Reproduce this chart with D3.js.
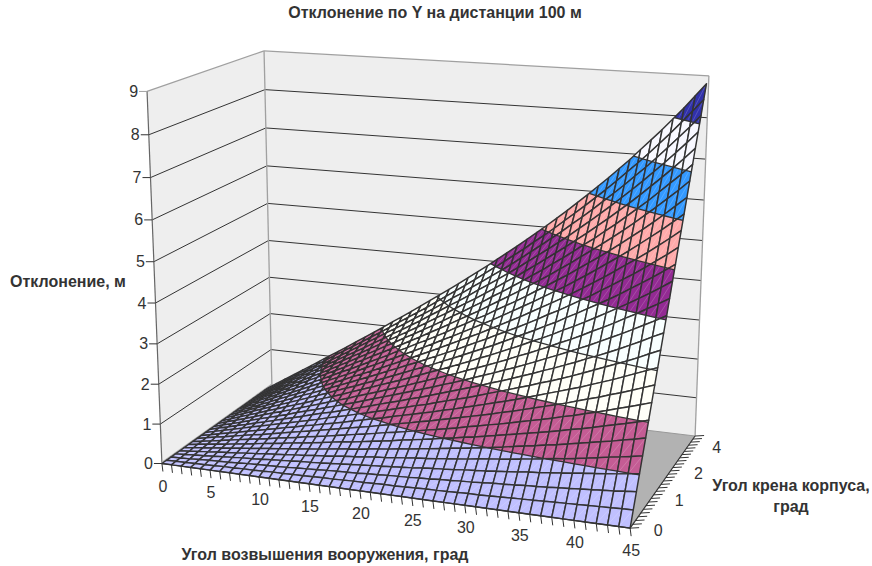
<!DOCTYPE html>
<html><head><meta charset="utf-8">
<script src="https://cdn.jsdelivr.net/npm/d3@7"></script>
<style>body{margin:0;background:#fff}text{font-family:"Liberation Sans",Arial,sans-serif;fill:#333}</style>
</head><body><svg id="chart" width="872" height="566"></svg>
<script>
var elevation = [0,1,2,3,4,5,6,7,8,9,10,11,12,13,14,15,16,17,18,19,20,21,22,23,24,25,26,27,28,29,30,31,32,33,34,35,36,37,38,39,40,41,42,43,44,45];
var roll = [0,.15,.3,.45,.6,.75,.9,1.05,1.2,1.35,1.5,1.65,1.8,1.95,2.1,2.25,2.4,2.55,2.7,2.85,3,3.15,3.3,3.45,3.6,3.75,3.9];
var rollEnd = 4.05;
// one row per roll angle
var deviation = [
[0,0,0,0,0,0,0,0,0,0,0,0,0,0,0,0,0,0,0,0,0,0,0,0,0,0,0,0,0,0,0,0,0,0,0,0,0,0,0,0,0,0,0,0,0,0],
[0,.01,.01,.02,.02,.03,.04,.04,.05,.05,.06,.07,.07,.08,.08,.09,.10,.10,.11,.12,.12,.13,.14,.14,.15,.16,.17,.17,.18,.19,.20,.20,.21,.22,.23,.24,.25,.26,.27,.28,.29,.30,.31,.32,.33,.34],
[0,.01,.02,.04,.05,.06,.07,.08,.10,.11,.12,.13,.14,.16,.17,.18,.20,.21,.22,.23,.25,.26,.28,.29,.30,.32,.33,.35,.36,.38,.39,.41,.43,.44,.46,.48,.49,.51,.53,.55,.57,.59,.61,.63,.66,.68],
[0,.02,.04,.05,.07,.09,.11,.13,.14,.16,.18,.20,.22,.24,.25,.27,.29,.31,.33,.35,.37,.39,.41,.43,.45,.48,.50,.52,.54,.57,.59,.61,.64,.66,.69,.72,.74,.77,.80,.83,.86,.89,.92,.95,.99,1.02],
[0,.02,.05,.07,.10,.12,.14,.17,.19,.22,.24,.26,.29,.31,.34,.36,.39,.42,.44,.47,.50,.52,.55,.58,.61,.63,.66,.69,.72,.75,.79,.82,.85,.88,.92,.95,.99,1.03,1.06,1.10,1.14,1.18,1.23,1.27,1.31,1.36],
[0,.03,.06,.09,.12,.15,.18,.21,.24,.27,.30,.33,.36,.39,.42,.46,.49,.52,.55,.59,.62,.65,.69,.72,.76,.79,.83,.87,.90,.94,.98,1.02,1.06,1.11,1.15,1.19,1.24,1.28,1.33,1.38,1.43,1.48,1.53,1.59,1.64,1.70],
[0,.04,.07,.11,.14,.18,.21,.25,.29,.32,.36,.40,.43,.47,.51,.55,.59,.62,.66,.70,.74,.78,.83,.87,.91,.95,1.00,1.04,1.09,1.13,1.18,1.23,1.28,1.33,1.38,1.43,1.48,1.54,1.60,1.65,1.71,1.78,1.84,1.90,1.97,2.04],
[0,.04,.08,.12,.17,.21,.25,.29,.33,.38,.42,.46,.51,.55,.59,.64,.68,.73,.77,.82,.87,.91,.96,1.01,1.06,1.11,1.16,1.21,1.27,1.32,1.38,1.43,1.49,1.55,1.61,1.67,1.73,1.80,1.86,1.93,2.00,2.07,2.15,2.22,2.30,2.38],
[0,.05,.10,.14,.19,.24,.29,.33,.38,.43,.48,.53,.58,.63,.68,.73,.78,.83,.88,.94,.99,1.05,1.10,1.16,1.21,1.27,1.33,1.39,1.45,1.51,1.57,1.64,1.70,1.77,1.84,1.91,1.98,2.05,2.13,2.21,2.28,2.37,2.45,2.54,2.63,2.72],
[0,.05,.11,.16,.21,.27,.32,.38,.43,.49,.54,.60,.65,.71,.76,.82,.88,.94,1.00,1.05,1.12,1.18,1.24,1.30,1.36,1.43,1.49,1.56,1.63,1.70,1.77,1.84,1.91,1.99,2.07,2.15,2.23,2.31,2.39,2.48,2.57,2.66,2.76,2.86,2.96,3.06],
[0,.06,.12,.18,.24,.30,.36,.42,.48,.54,.60,.66,.72,.79,.85,.91,.98,1.04,1.11,1.17,1.24,1.31,1.38,1.44,1.52,1.59,1.66,1.73,1.81,1.89,1.97,2.05,2.13,2.21,2.30,2.38,2.47,2.56,2.66,2.76,2.86,2.96,3.06,3.17,3.29,3.40],
[0,.07,.13,.20,.26,.33,.39,.46,.53,.59,.66,.73,.80,.86,.93,1.00,1.07,1.14,1.22,1.29,1.36,1.44,1.51,1.59,1.67,1.75,1.83,1.91,1.99,2.08,2.16,2.25,2.34,2.43,2.53,2.62,2.72,2.82,2.93,3.03,3.14,3.25,3.37,3.49,3.62,3.74],
[0,.07,.14,.21,.29,.36,.43,.50,.57,.65,.72,.79,.87,.94,1.02,1.09,1.17,1.25,1.33,1.41,1.49,1.57,1.65,1.73,1.82,1.90,1.99,2.08,2.17,2.26,2.36,2.45,2.55,2.65,2.76,2.86,2.97,3.08,3.19,3.31,3.43,3.55,3.68,3.81,3.94,4.08],
[0,.08,.15,.23,.31,.39,.47,.54,.62,.70,.78,.86,.94,1.02,1.10,1.19,1.27,1.35,1.44,1.52,1.61,1.70,1.79,1.88,1.97,2.06,2.16,2.25,2.35,2.45,2.55,2.66,2.76,2.87,2.98,3.10,3.21,3.33,3.46,3.58,3.71,3.85,3.98,4.13,4.27,4.42],
[0,.08,.17,.25,.33,.42,.50,.59,.67,.75,.84,.93,1.01,1.10,1.19,1.28,1.37,1.46,1.55,1.64,1.73,1.83,1.93,2.02,2.12,2.22,2.32,2.43,2.53,2.64,2.75,2.86,2.98,3.09,3.21,3.34,3.46,3.59,3.72,3.86,4.00,4.14,4.29,4.44,4.60,4.77],
[0,.09,.18,.27,.36,.45,.54,.63,.72,.81,.90,.99,1.09,1.18,1.27,1.37,1.46,1.56,1.66,1.76,1.86,1.96,2.06,2.17,2.27,2.38,2.49,2.60,2.71,2.83,2.95,3.07,3.19,3.32,3.44,3.58,3.71,3.85,3.99,4.13,4.28,4.44,4.60,4.76,4.93,5.11],
[0,.10,.19,.29,.38,.48,.57,.67,.77,.86,.96,1.06,1.16,1.26,1.36,1.46,1.56,1.67,1.77,1.88,1.98,2.09,2.20,2.31,2.42,2.54,2.66,2.77,2.90,3.02,3.14,3.27,3.40,3.54,3.67,3.81,3.96,4.10,4.26,4.41,4.57,4.73,4.90,5.08,5.26,5.45],
[0,.10,.20,.30,.40,.51,.61,.71,.81,.92,1.02,1.12,1.23,1.34,1.44,1.55,1.66,1.77,1.88,1.99,2.11,2.22,2.34,2.46,2.58,2.70,2.82,2.95,3.08,3.21,3.34,3.48,3.62,3.76,3.90,4.05,4.20,4.36,4.52,4.69,4.86,5.03,5.21,5.40,5.59,5.79],
[0,.11,.21,.32,.43,.54,.64,.75,.86,.97,1.08,1.19,1.30,1.41,1.53,1.64,1.76,1.87,1.99,2.11,2.23,2.35,2.48,2.60,2.73,2.86,2.99,3.12,3.26,3.40,3.54,3.68,3.83,3.98,4.13,4.29,4.45,4.62,4.79,4.96,5.14,5.33,5.52,5.71,5.92,6.13],
[0,.11,.23,.34,.45,.57,.68,.79,.91,1.02,1.14,1.26,1.37,1.49,1.61,1.73,1.85,1.98,2.10,2.23,2.35,2.48,2.61,2.75,2.88,3.02,3.15,3.30,3.44,3.58,3.73,3.89,4.04,4.20,4.36,4.53,4.70,4.87,5.05,5.24,5.43,5.62,5.82,6.03,6.25,6.47],
[0,.12,.24,.36,.48,.60,.72,.84,.96,1.08,1.20,1.32,1.45,1.57,1.70,1.82,1.95,2.08,2.21,2.34,2.48,2.61,2.75,2.89,3.03,3.17,3.32,3.47,3.62,3.77,3.93,4.09,4.25,4.42,4.59,4.77,4.95,5.13,5.32,5.51,5.71,5.92,6.13,6.35,6.57,6.81],
[0,.12,.25,.37,.50,.63,.75,.88,1.00,1.13,1.26,1.39,1.52,1.65,1.78,1.92,2.05,2.19,2.32,2.46,2.60,2.74,2.89,3.03,3.18,3.33,3.49,3.64,3.80,3.96,4.13,4.29,4.47,4.64,4.82,5.01,5.19,5.39,5.58,5.79,6.00,6.21,6.44,6.67,6.90,7.15],
[0,.13,.26,.39,.52,.66,.79,.92,1.05,1.19,1.32,1.46,1.59,1.73,1.87,2.01,2.15,2.29,2.43,2.58,2.73,2.87,3.03,3.18,3.33,3.49,3.65,3.82,3.98,4.15,4.32,4.50,4.68,4.86,5.05,5.24,5.44,5.64,5.85,6.06,6.28,6.51,6.74,6.98,7.23,7.49],
[0,.14,.27,.41,.55,.68,.82,.96,1.10,1.24,1.38,1.52,1.66,1.81,1.95,2.10,2.24,2.39,2.54,2.70,2.85,3.01,3.16,3.32,3.49,3.65,3.82,3.99,4.16,4.34,4.52,4.70,4.89,5.08,5.28,5.48,5.69,5.90,6.12,6.34,6.57,6.81,7.05,7.30,7.56,7.83],
[0,.14,.29,.43,.57,.71,.86,1.00,1.15,1.29,1.44,1.59,1.74,1.89,2.04,2.19,2.34,2.50,2.65,2.81,2.97,3.14,3.30,3.47,3.64,3.81,3.98,4.16,4.34,4.53,4.72,4.91,5.10,5.31,5.51,5.72,5.94,6.16,6.38,6.62,6.85,7.10,7.36,7.62,7.89,8.17],
[0,.15,.30,.45,.60,.74,.89,1.04,1.20,1.35,1.50,1.65,1.81,1.96,2.12,2.28,2.44,2.60,2.76,2.93,3.10,3.27,3.44,3.61,3.79,3.97,4.15,4.34,4.52,4.72,4.91,5.11,5.32,5.53,5.74,5.96,6.18,6.41,6.65,6.89,7.14,7.40,7.66,7.94,8.22,8.51],
[0,.15,.31,.46,.62,.77,.93,1.09,1.24,1.40,1.56,1.72,1.88,2.04,2.21,2.37,2.54,2.71,2.88,3.05,3.22,3.40,3.58,3.76,3.94,4.13,4.32,4.51,4.71,4.91,5.11,5.32,5.53,5.75,5.97,6.20,6.43,6.67,6.91,7.17,7.43,7.69,7.97,8.25,8.55,8.85]
];
var zTicks = [0,1,2,3,4,5,6,7,8,9];
var xLabels = [0,5,10,15,20,25,30,35,40,45];
var rollLabelAt = [0,1.2,2.4,3.6];
var rollLabels = ["0","1","2","4"];
var bandColors = ["#c0c0ff","#c45c94","#fffff8","#f8ffff","#932a93","#ffaaaa","#3399ff","#f8f8ff","#3030aa"];

var sx = d3.scaleLinear().domain([0, 45]).range([0, 1]);
var sv = d3.scaleLinear().domain([0, rollEnd]).range([0, 1]);
var sz = d3.scaleLinear().domain([0, 9]).range([0, 1]);

// box corners on screen, used to solve the camera
var calib = [
	[0,0,0,163,465],[1,0,0,629,528],[1,1,0,696,436],[0,1,0,271,384],
	[0,0,1,147,90],[0,1,1,264,52],[1,1,1,709,76]
];
function solve(A, b){
	var n = b.length, M = A.map(function(r,i){return r.concat(b[i]);});
	for (var i = 0; i < n; i++){
		var p = i;
		for (var j = i + 1; j < n; j++) if (Math.abs(M[j][i]) > Math.abs(M[p][i])) p = j;
		var t = M[i]; M[i] = M[p]; M[p] = t;
		for (j = 0; j < n; j++) if (j != i){
			var f = M[j][i] / M[i][i];
			for (var k = i; k <= n; k++) M[j][k] -= f * M[i][k];
		}
	}
	return M.map(function(r,i){return r[n] / r[i];});
}
var rows = [], rhs = [];
calib.forEach(function(c){
	var u=c[0],v=c[1],w=c[2],X=c[3],Y=c[4];
	rows.push([u,v,w,1,0,0,0,0,-X*u,-X*v,-X*w]); rhs.push(X);
	rows.push([0,0,0,0,u,v,w,1,-Y*u,-Y*v,-Y*w]); rhs.push(Y);
});
var AtA = d3.range(11).map(function(i){return d3.range(11).map(function(j){return d3.sum(rows,function(r){return r[i]*r[j];});});});
var Atb = d3.range(11).map(function(i){return d3.sum(rows,function(r,k){return r[i]*rhs[k];});});
var cam = solve(AtA, Atb);
function proj(x, r, z){
	var u=sx(x),v=sv(r),w=sz(z);
	var d = cam[8]*u+cam[9]*v+cam[10]*w+1;
	return [(cam[0]*u+cam[1]*v+cam[2]*w+cam[3])/d, (cam[4]*u+cam[5]*v+cam[6]*w+cam[7])/d];
}
var line = d3.line();
var svg = d3.select("#chart");
function poly(pts, fill){
	svg.append("path").attr("d", line(pts)+"Z").attr("fill", fill).attr("stroke","none");
}
function seg(a, b, col, w){
	svg.append("line").attr("x1",a[0]).attr("y1",a[1]).attr("x2",b[0]).attr("y2",b[1]).attr("stroke",col).attr("stroke-width",w);
}
// walls and floor
poly([proj(0,0,0),proj(0,rollEnd,0),proj(0,rollEnd,9),proj(0,0,9)], "#eeeeee");
poly([proj(0,rollEnd,0),proj(45,rollEnd,0),proj(45,rollEnd,9),proj(0,rollEnd,9)], "#eeeeee");
poly([proj(0,0,0),proj(45,0,0),proj(45,rollEnd,0),proj(0,rollEnd,0)], "#b2b2b2");
zTicks.slice(1,9).forEach(function(z){
	seg(proj(0,0,z),proj(0,rollEnd,z),"#333",1);
	seg(proj(0,rollEnd,z),proj(45,rollEnd,z),"#333",1);
});
seg(proj(0,0,9),proj(0,rollEnd,9),"#a0a0a0",1.3);
seg(proj(0,rollEnd,9),proj(45,rollEnd,9),"#a0a0a0",1.3);
seg(proj(0,rollEnd,0),proj(0,rollEnd,9),"#a0a0a0",1.3);
seg(proj(45,rollEnd,0),proj(45,rollEnd,9),"#a0a0a0",1.3);
seg(proj(0,0,0),proj(0,0,9),"#666",1.2);
seg(proj(0,0,0),proj(0,rollEnd,0),"#aaa",3);
seg(proj(0,rollEnd,0),proj(45,rollEnd,0),"#999",1);

// surface, back rows first
function clip(p, z0, keepAbove){
	var out = [];
	p.forEach(function(a,i){
		var b = p[(i+1)%p.length];
		var ia = keepAbove ? a[2]>=z0 : a[2]<=z0, ib = keepAbove ? b[2]>=z0 : b[2]<=z0;
		if (ia) out.push(a);
		if (ia != ib){
			var t = (z0-a[2])/(b[2]-a[2]);
			out.push([a[0]+t*(b[0]-a[0]),a[1]+t*(b[1]-a[1]),z0]);
		}
	});
	return out;
}
function project3(p){return proj(p[0],p[1],p[2]);}
for (var ri = roll.length-2; ri >= 0; ri--){
	for (var xi = 0; xi < elevation.length-1; xi++){
		var q = [[elevation[xi],roll[ri],deviation[ri][xi]],[elevation[xi+1],roll[ri],deviation[ri][xi+1]],
			[elevation[xi+1],roll[ri+1],deviation[ri+1][xi+1]],[elevation[xi],roll[ri+1],deviation[ri+1][xi]]];
		var g = svg.append("g");
		var edges = [];
		bandColors.forEach(function(col,bi){
			var piece = clip(clip(q,bi,true),bi+1,false);
			if (piece.length < 3) return;
			g.append("path").attr("d",line(piece.map(project3))+"Z").attr("fill",col).attr("stroke",col).attr("stroke-width",0.3);
			piece.forEach(function(a,i){
				var b = piece[(i+1)%piece.length];
				if (a[2]==b[2] && a[2]==bi+1) edges.push([a,b]);
			});
		});
		g.append("path").attr("d",line([q[0],q[2]].map(project3))).attr("fill","none").attr("stroke","#fff").attr("stroke-opacity",0.25).attr("stroke-width",0.7);
		g.append("path").attr("d",line(q.map(project3))+"Z").attr("fill","none").attr("stroke","#333").attr("stroke-width",1.45).attr("stroke-linejoin","round");
		edges.forEach(function(e){
			g.append("path").attr("d",line(e.map(project3))).attr("fill","none").attr("stroke","#333").attr("stroke-width",1.3);
		});
	}
}
// axes
seg(proj(0,0,0),proj(45,0,0),"#333",1.2);
seg(proj(45,0,0),proj(45,rollEnd,0),"#333",1.2);
elevation.forEach(function(a){
	var p = proj(a,0,0);
	seg(p,[p[0]+1,p[1]+8],"#333",1);
});
roll.concat(rollEnd).forEach(function(r){
	var p = proj(45,r,0);
	seg(p,[p[0]+9,p[1]-0.5],"#333",1);
});
zTicks.forEach(function(z){
	var p = proj(0,0,z);
	seg(p,[p[0]-8,p[1]],z==9?"#a0a0a0":"#333",1);
	svg.append("text").attr("x",p[0]-9).attr("y",p[1]+5.5).attr("text-anchor","end").attr("font-size",16).text(z);
});
xLabels.forEach(function(a){
	var p = proj(a,0,0);
	svg.append("text").attr("x",p[0]+1).attr("y",p[1]+28).attr("text-anchor","middle").attr("font-size",16).text(a);
});
rollLabelAt.forEach(function(r,i){
	var p = proj(45,r,0);
	svg.append("text").attr("x",p[0]+28).attr("y",p[1]+8).attr("text-anchor","middle").attr("font-size",16).text(rollLabels[i]);
});
function label(x,y,t,anchor){
	svg.append("text").attr("x",x).attr("y",y).attr("text-anchor",anchor||"middle").attr("font-size",16).attr("font-weight","bold").text(t);
}
label(435,18,"Отклонение по Y на дистанции 100 м");
label(10,287,"Отклонение, м","start");
label(325,560,"Угол возвышения вооружения, град");
label(791,491,"Угол крена корпуса,");
label(791,512,"град");
</script></body></html>
